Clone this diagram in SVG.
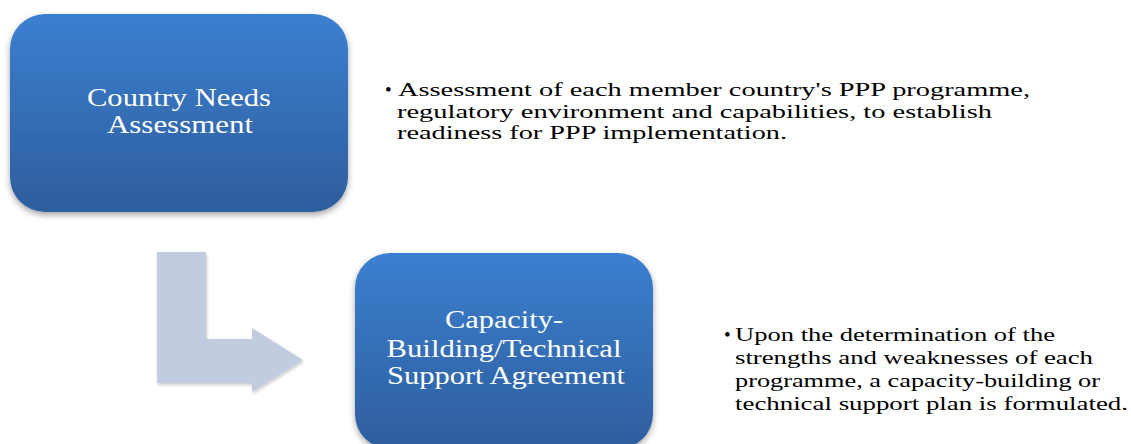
<svg xmlns="http://www.w3.org/2000/svg" width="1131" height="444" viewBox="0 0 1131 444">
  <style>
    .node-text { font-family: "Liberation Serif", "DejaVu Serif", serif; font-size: 25px; fill: #ffffff; text-anchor: middle; }
    .desc { font-family: "Liberation Serif", "DejaVu Serif", serif; font-size: 19px; fill: #000000; }
    .box { fill: url(#boxGrad); filter: url(#shadow); }
  </style>
  <defs>
    <linearGradient id="boxGrad" x1="0" y1="0" x2="0" y2="1">
      <stop offset="0" stop-color="#3b7fd0"/>
      <stop offset="1" stop-color="#2e5e9d"/>
    </linearGradient>
    <filter id="shadow" x="-10%" y="-10%" width="120%" height="125%">
      <feDropShadow dx="0" dy="3" stdDeviation="3" flood-color="#000000" flood-opacity="0.35"/>
    </filter>
    <filter id="arrowShadow" x="-10%" y="-10%" width="130%" height="130%">
      <feDropShadow dx="1" dy="2" stdDeviation="1.5" flood-color="#000000" flood-opacity="0.2"/>
    </filter>
  </defs>

  <g id="connectors">
    <path d="M157,252 L206,252 L206,339 L252,339 L252,328 L303,360 L252,392 L252,383 L157,383 Z" fill="#c1cce1" filter="url(#arrowShadow)"/>
  </g>

  <g id="node-country-needs">
    <rect class="box" x="10" y="14" width="338" height="198" rx="35" ry="35"/>
    <text class="node-text" x="179" y="106" textLength="184" lengthAdjust="spacingAndGlyphs">Country Needs</text>
    <text class="node-text" x="180" y="133" textLength="146" lengthAdjust="spacingAndGlyphs">Assessment</text>
  </g>

  <g id="desc-country-needs">
    <text class="desc" x="385" y="96">•</text>
    <text class="desc" x="398" y="96" textLength="632" lengthAdjust="spacingAndGlyphs">Assessment of each member country's PPP programme,</text>
    <text class="desc" x="397" y="118" textLength="595" lengthAdjust="spacingAndGlyphs">regulatory environment and capabilities, to establish</text>
    <text class="desc" x="397" y="139" textLength="390" lengthAdjust="spacingAndGlyphs">readiness for PPP implementation.</text>
  </g>

  <g id="node-capacity-building">
    <rect class="box" x="355" y="253" width="298" height="196" rx="35" ry="35"/>
    <text class="node-text" x="504" y="328" textLength="118" lengthAdjust="spacingAndGlyphs">Capacity-</text>
    <text class="node-text" x="504" y="357" textLength="235" lengthAdjust="spacingAndGlyphs">Building/Technical</text>
    <text class="node-text" x="506" y="384" textLength="238" lengthAdjust="spacingAndGlyphs">Support Agreement</text>
  </g>

  <g id="desc-capacity-building">
    <text class="desc" x="724" y="341">•</text>
    <text class="desc" x="735" y="341" textLength="320" lengthAdjust="spacingAndGlyphs">Upon the determination of the</text>
    <text class="desc" x="735" y="364" textLength="358" lengthAdjust="spacingAndGlyphs">strengths and weaknesses of each</text>
    <text class="desc" x="735" y="387" textLength="365" lengthAdjust="spacingAndGlyphs">programme, a capacity-building or</text>
    <text class="desc" x="735" y="410" textLength="393" lengthAdjust="spacingAndGlyphs">technical support plan is formulated.</text>
  </g>
</svg>
